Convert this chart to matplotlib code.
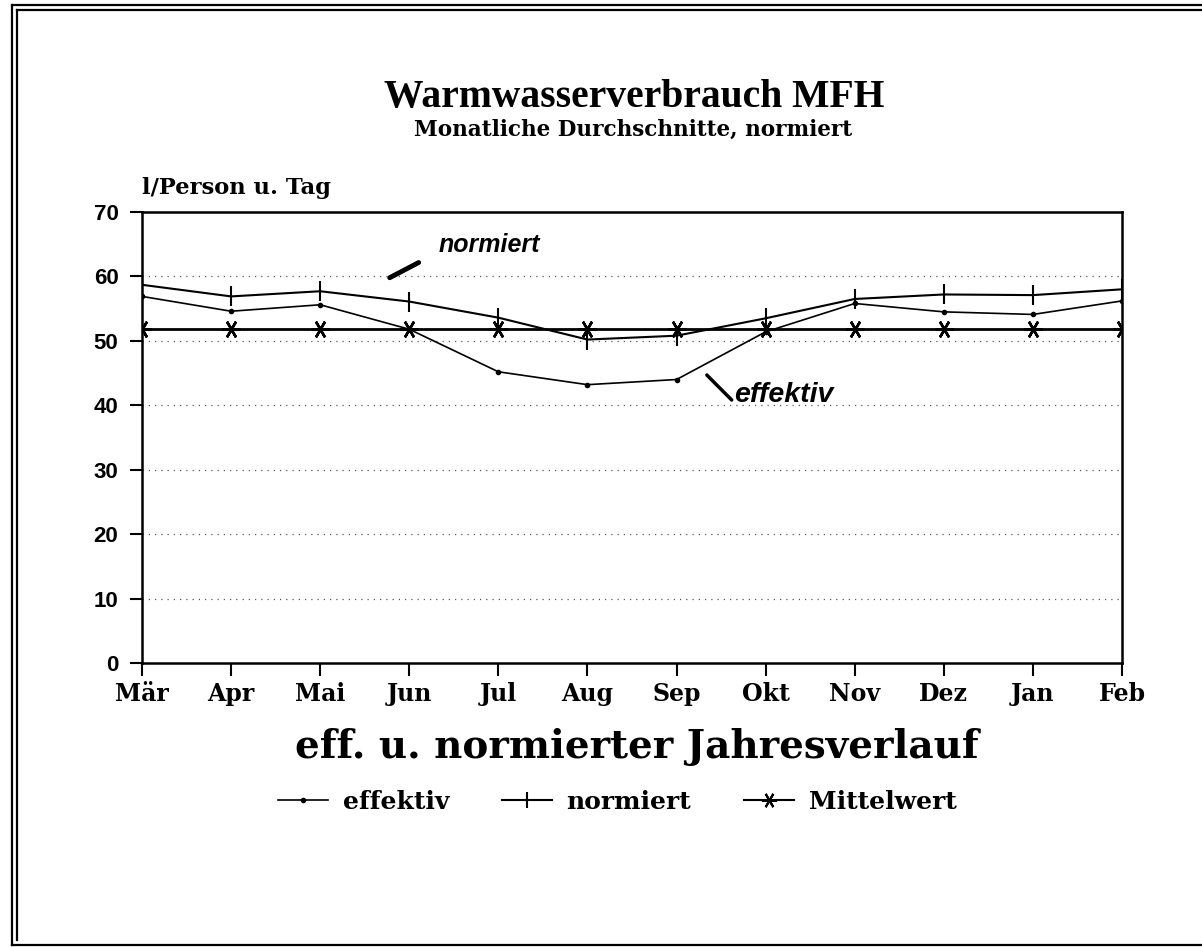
import numpy as np
import matplotlib
matplotlib.use("Agg")
import matplotlib.pyplot as plt
from matplotlib.lines import Line2D

# data ----------------------------------------------------------------
monate = ["Mär", "Apr", "Mai", "Jun", "Jul", "Aug", "Sep", "Okt", "Nov", "Dez", "Jan", "Feb"]
effektiv = [56.9, 54.6, 55.6, 51.8, 45.2, 43.2, 44.0, 51.4, 55.8, 54.5, 54.1, 56.2]
normiert = [58.7, 56.9, 57.7, 56.1, 53.6, 50.2, 50.8, 53.5, 56.5, 57.2, 57.1, 58.0]
mittelwert = [51.8] * 12
yticks = [0, 10, 20, 30, 40, 50, 60, 70]

serif = "Liberation Serif"
wide = "DejaVu Serif"
sans = "Liberation Sans"
stern = (6, 2, 90)

# figure --------------------------------------------------------------
fig = plt.figure(figsize=(12.02, 9.47), dpi=100)
ax = fig.add_axes([142/1202, 1-663/947, (1122-142)/1202, (663-212)/947])

x = np.arange(len(monate))
ax.plot(x, effektiv, color="k", lw=1.2, marker="o", ms=3)
ax.plot(x, normiert, color="k", lw=1.5, marker="|", ms=14, mew=1.5)
ax.plot(x, mittelwert, color="k", lw=2.0, marker=stern, ms=13, mew=1.8)

ax.set_xlim(0, 11)
ax.set_ylim(0, 70)
ax.set_yticks(yticks)
ax.set_xticks(x)
ax.set_xticklabels(monate)
for lab in ax.get_xticklabels():
    lab.set_fontfamily(wide)
    lab.set_fontweight("bold")
    lab.set_fontsize(17)
for lab in ax.get_yticklabels():
    lab.set_fontfamily(sans)
    lab.set_fontweight("bold")
    lab.set_fontsize(16)
ax.tick_params(axis="x", direction="out", length=9, width=1.5, pad=5)
ax.tick_params(axis="y", direction="out", length=9, width=1.5, pad=8)
for sp in ax.spines.values():
    sp.set_linewidth(1.8)

for v in yticks[1:-1]:
    ax.axhline(v, color="0.35", lw=0.9, ls=(0, (1, 4)), zorder=0)

# annotations
ax.annotate("normiert", xy=(2.78, 59.8), xytext=(3.33, 64.9),
            fontsize=18, fontfamily=sans, fontweight="bold", style="italic",
            va="center", ha="left",
            arrowprops=dict(arrowstyle="-", lw=3.5, color="k",
                            shrinkA=14, shrinkB=0, relpos=(0, 0.2)))
ax.annotate("effektiv", xy=(6.34, 44.7), xytext=(6.65, 41.6),
            fontsize=20.5, fontfamily=sans, fontweight="bold", style="italic",
            va="center", ha="left",
            arrowprops=dict(arrowstyle="-", lw=2.5, color="k",
                            shrinkA=0, shrinkB=0, relpos=(0, 0.2)))

# texts
fig.text(634/1202, 1-97/947, "Warmwasserverbrauch MFH", ha="center", va="center",
         fontsize=28.5, fontfamily=serif, fontweight="bold")
fig.text(633/1202, 1-130/947, "Monatliche Durchschnitte, normiert", ha="center", va="center",
         fontsize=15.5, fontfamily=wide, fontweight="bold")
fig.text(142/1202, 1-188/947, "l/Person u. Tag", ha="left", va="center",
         fontsize=16.3, fontfamily=wide, fontweight="bold")
fig.text(637/1202, 1-747/947, "eff. u. normierter Jahresverlauf", ha="center", va="center",
         fontsize=28, fontfamily=wide, fontweight="bold")

# legend
handles = [
    Line2D([], [], color="k", lw=1.2, marker="o", ms=3),
    Line2D([], [], color="k", lw=1.5, marker="|", ms=12, mew=1.5),
    Line2D([], [], color="k", lw=1.5, marker=stern, ms=11, mew=1.5),
]
fig.legend(handles, ["effektiv", "normiert", "Mittelwert"], loc="center",
           bbox_to_anchor=(617/1202, 1-802/947), ncol=3, frameon=False,
           handlelength=2.0, columnspacing=2.1, handletextpad=0.6,
           prop=dict(family=wide, weight="bold", size=18))

# double frame around the page
frame = dict(color="k", lw=1.6, transform=fig.transFigure, clip_on=False)
fig.add_artist(Line2D([12/1202, 12/1202], [1-5/947, 1-945/947], **frame))
fig.add_artist(Line2D([17/1202, 17/1202], [1-10/947, 1-940/947], **frame))
fig.add_artist(Line2D([12/1202, 1], [1-5/947, 1-5/947], **frame))
fig.add_artist(Line2D([17/1202, 1], [1-10/947, 1-10/947], **frame))
fig.add_artist(Line2D([12/1202, 1], [1-945/947, 1-945/947], **frame))

fig.savefig("out.png", dpi=100)
